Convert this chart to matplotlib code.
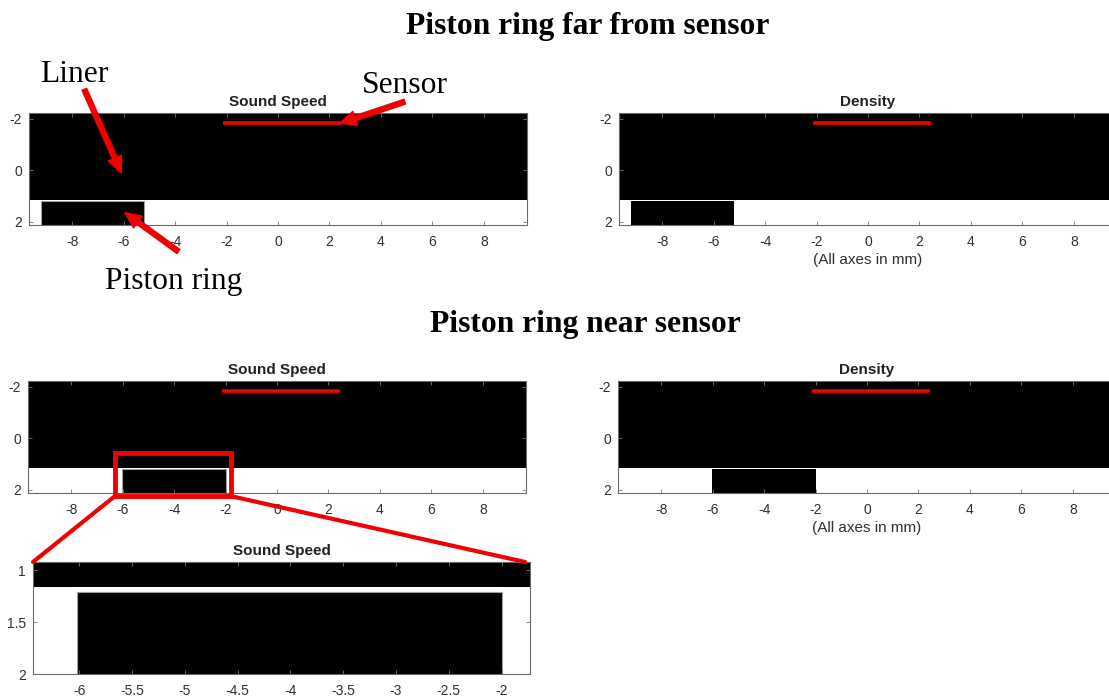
import matplotlib
matplotlib.use("Agg")
import matplotlib.pyplot as plt
from matplotlib.patches import Rectangle, ConnectionPatch

W, H = 1109, 700
RED = "#f00000"
INK = "#303030"

# simulation grid and geometry, all in mm
grid_x = [-9.68, 9.68]
grid_y = [-2.22, 2.13]
liner_bottom = 1.16
ring_top = 1.21
ring_far = [-9.2, -5.22]
ring_near = [-6.02, -2.0]
sensor_x = [-2.15, 2.45]
sensor_y = -1.82
x_ticks = [-8, -6, -4, -2, 0, 2, 4, 6, 8]
y_ticks = [-2, 0, 2]

# close-up of the ring near the sensor
zoom_x = [-6.44, -1.73]
zoom_y = [0.92, 2.0]
zoom_xticks = [-6, -5.5, -5, -4.5, -4, -3.5, -3, -2.5, -2]
zoom_yticks = [1, 1.5, 2]
zoom_box_x = [-6.3, -1.8]
zoom_box_y = [0.58, 2.25]

plt.rcParams["font.family"] = ["Liberation Sans", "DejaVu Sans"]
plt.rcParams["axes.unicode_minus"] = False

fig = plt.figure(figsize=(W / 100, H / 100), dpi=100)


def px_axes(left, right, top, bottom):
    return fig.add_axes([left / W, 1 - bottom / H, (right - left) / W, (bottom - top) / H])


def style(ax, title, xt, yt, xlim, ylim):
    ax.set_xlim(xlim)
    ax.set_ylim(ylim[1], ylim[0])
    ax.set_xticks(xt)
    ax.set_yticks(yt)
    ax.set_xticklabels([f"{v:g}" for v in xt])
    ax.set_yticklabels([f"{v:g}" for v in yt])
    ax.tick_params(direction="in", top=True, right=True, length=3, width=0.6,
                   color="#777777", labelcolor=INK, labelsize=10)
    ax.tick_params(axis="x", pad=7)
    ax.tick_params(axis="y", pad=5)
    for s in ax.spines.values():
        s.set_color("#6a6a6a")
        s.set_linewidth(0.8)
    ax.set_title(title, fontsize=11, fontweight="bold", color="#222222", pad=5)


def panel(ax, title, ring, outline, xlabel=None):
    ax.axhspan(grid_y[0], liner_bottom, color="black", lw=0)
    ax.add_patch(Rectangle((ring[0], ring_top), ring[1] - ring[0], grid_y[1] - ring_top,
                           facecolor="black", edgecolor="#a0a0a0" if outline else "none",
                           lw=0.8))
    ax.plot(sensor_x, [sensor_y, sensor_y], color=RED, lw=2.6, solid_capstyle="butt")
    style(ax, title, x_ticks, y_ticks, grid_x, grid_y)
    if xlabel:
        ax.set_xlabel(xlabel, fontsize=11, color=INK, labelpad=3)


ax1 = px_axes(29, 527, 113, 225)
ax2 = px_axes(619, 1117, 113, 225)
ax3 = px_axes(28, 526, 381, 493)
ax4 = px_axes(618, 1116, 381, 493)
ax5 = px_axes(33, 530, 562, 674)

panel(ax1, "Sound Speed", ring_far, True)
panel(ax2, "Density", ring_far, False, "(All axes in mm)")
panel(ax3, "Sound Speed", ring_near, True)
panel(ax4, "Density", ring_near, False, "(All axes in mm)")

# close-up panel
ax5.axhspan(grid_y[0], liner_bottom, color="black", lw=0)
ax5.add_patch(Rectangle((ring_near[0], ring_top), ring_near[1] - ring_near[0],
                        grid_y[1] - ring_top, facecolor="black", edgecolor="#a0a0a0", lw=0.8))
style(ax5, "Sound Speed", zoom_xticks, zoom_yticks, zoom_x, zoom_y)

# red box around the ring and the lines leading to the close-up
ax3.add_patch(Rectangle((zoom_box_x[0], zoom_box_y[0]), zoom_box_x[1] - zoom_box_x[0],
                        zoom_box_y[1] - zoom_box_y[0], fill=False, edgecolor=RED,
                        lw=3.5, clip_on=False, zorder=5))
for bx, fx in [(zoom_box_x[0], 0.0), (zoom_box_x[1], 0.99)]:
    con = ConnectionPatch(xyA=(bx, zoom_box_y[1]), coordsA=ax3.transData,
                          xyB=(fx, 1.0), coordsB=ax5.transAxes,
                          color=RED, lw=3, zorder=6)
    fig.add_artist(con)

# labelled arrows on the first panel
arrow = dict(arrowstyle="simple,head_length=1.15,head_width=1.05,tail_width=0.36",
             mutation_scale=10, color=RED, shrinkA=0, shrinkB=0)
ax1.annotate("", xy=(-6.09, 0.1), xytext=(-7.53, -3.14), arrowprops=arrow,
             annotation_clip=False)
ax1.annotate("", xy=(2.41, -1.82), xytext=(4.93, -2.66), arrowprops=arrow,
             annotation_clip=False)
ax1.annotate("", xy=(-5.95, 1.65), xytext=(-3.87, 3.16), arrowprops=arrow,
             annotation_clip=False)

serif = ["Liberation Serif", "DejaVu Serif"]
fig.text(40 / W, 1 - 82 / H, "Liner", family=serif, fontsize=22.7, va="baseline")
fig.text(362 / W, 1 - 93 / H, "Sensor", family=serif, fontsize=22.7, va="baseline")
fig.text(105 / W, 1 - 289 / H, "Piston ring", family=serif, fontsize=22.7, va="baseline")
fig.text(587.5 / W, 1 - 34 / H, "Piston ring far from sensor", family=serif,
         fontsize=22.7, fontweight="bold", ha="center", va="baseline")
fig.text(585.5 / W, 1 - 332 / H, "Piston ring near sensor", family=serif,
         fontsize=22.7, fontweight="bold", ha="center", va="baseline")

fig.savefig("out.png", dpi=100)
